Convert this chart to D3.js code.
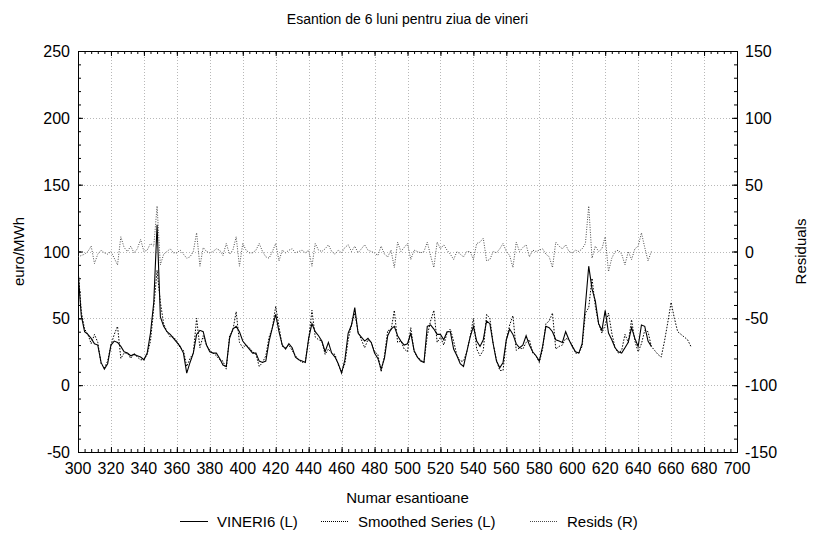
<!DOCTYPE html>
<html>
<head>
<meta charset="utf-8">
<script src="https://cdn.jsdelivr.net/npm/d3@7"></script>
<style>
body { margin: 0; background: #fff; }
text { font-family: "Liberation Sans", Arial, sans-serif; fill: #000; }
</style>
</head>
<body>
<div id="chart"></div>
<script>
var w = 815;
var h = 536;
var margin = {left: 78, right: 78, top: 51, bottom: 84};

// samples are read every 2 units along the x axis
var sampleStart = 300;
var sampleStep = 2;

var vineri6 = [85,52,40,38,35,31,30,17,12,16,
	30,33,32,29,25,24,22,23,22,21,
	19,24,39,62,120,51,44,40,38,35,
	32,29,24,9,17,24,38,41,40,30,
	25,24,24,20,15,14,35,42,44,40,
	33,30,27,24,24,18,17,18,33,43,
	53,40,30,27,31,28,21,19,18,17,
	35,46,40,37,33,25,32,24,21,16,
	9,19,39,45,58,39,36,33,35,32,
	24,20,12,20,37,42,44,37,33,30,
	31,39,26,21,18,17,44,45,42,38,
	38,34,40,40,27,22,16,14,25,36,
	44,33,29,34,48,46,31,18,13,17,
	34,42,38,31,28,30,37,30,25,22,
	18,29,44,43,40,34,33,32,40,34,
	29,25,24,31,60,89,72,63,46,41,
	56,39,34,28,25,24,28,32,43,35,
	29,45,44,33,29];

var smoothed = [88,55,42,38,31,38,32,16,13,18,
	30,38,44,20,24,24,20,24,21,19,
	19,23,33,58,86,62,46,40,36,36,
	33,28,26,14,20,24,50,28,37,30,
	26,24,22,19,18,12,37,41,55,32,
	28,30,28,25,23,14,17,22,36,43,
	59,44,29,28,30,26,22,19,17,18,
	34,56,36,34,33,23,27,24,23,15,
	10,16,34,45,54,40,34,28,34,32,
	25,23,10,22,41,41,56,32,33,27,
	25,43,25,21,19,17,37,48,56,32,
	36,30,39,42,33,22,18,18,25,36,
	50,27,22,26,53,50,31,19,11,11,
	34,45,52,26,28,27,32,34,24,22,
	17,27,46,48,54,27,29,30,35,34,
	30,24,24,29,54,58,80,59,46,39,
	45,54,39,28,24,26,38,32,49,33,
	25,31,41,40,29,26,23,21,33,47,
	62,50,40,38,36,34,29];

var resids = [-4,-3,-2,0,4,-9,-2,1,-1,-2,
	0,-5,-10,11,3,0,4,-1,2,9,
	0,1,6,4,34,-10,-2,0,2,-1,
	-1,1,-2,-5,-4,0,14,-11,3,0,
	-1,0,2,1,-3,6,-2,1,11,-11,
	6,1,-1,-1,1,6,0,-4,-5,0,
	6,-7,1,-1,1,2,-1,0,1,-1,
	1,-11,6,1,0,2,5,0,-2,1,
	-1,3,5,0,4,-1,2,5,1,0,
	-1,-3,4,-2,-4,1,-12,7,0,3,
	6,-6,1,0,-1,0,7,-3,-12,7,
	2,5,1,-2,-6,0,-2,-4,0,0,
	-6,6,7,10,-7,-6,0,-1,2,6,
	0,-3,-12,7,0,3,5,-4,1,0,
	1,2,-2,-4,-12,7,4,2,5,0,
	-1,1,0,2,6,34,-5,4,0,2,
	11,-15,-5,0,1,-2,-10,0,-6,2,
	4,14,3,-7,0];

var xTicks = d3.range(300, 701, 20);
var yLeftTicks = [-50, 0, 50, 100, 150, 200, 250];
var yRightTicks = [-150, -100, -50, 0, 50, 100, 150];

var svg = d3.select("#chart")
	.append("svg")
	.attr("width", w)
	.attr("height", h);

var x = d3.scaleLinear().domain([300, 700]).range([margin.left, w - margin.right]);
var yL = d3.scaleLinear().domain([-50, 250]).range([h - margin.bottom, margin.top]);
var yR = d3.scaleLinear().domain([-150, 150]).range([h - margin.bottom, margin.top]);

var plotLeft = margin.left, plotRight = w - margin.right;
var plotTop = margin.top, plotBottom = h - margin.bottom;

// grid
svg.append("g")
	.selectAll("line")
	.data(xTicks.slice(1, -1))
	.enter()
	.append("line")
	.attr("x1", (d) => Math.round(x(d)) + 0.5).attr("x2", (d) => Math.round(x(d)) + 0.5)
	.attr("y1", plotTop).attr("y2", plotBottom)
	.attr("stroke", "#b8b8b8").attr("stroke-dasharray", "1,2");

svg.append("g")
	.selectAll("line")
	.data(yLeftTicks.slice(1, -1))
	.enter()
	.append("line")
	.attr("y1", (d) => Math.round(yL(d)) + 0.5).attr("y2", (d) => Math.round(yL(d)) + 0.5)
	.attr("x1", plotLeft).attr("x2", plotRight)
	.attr("stroke", "#b8b8b8").attr("stroke-dasharray", "1,2");

// axes, ticks pointing inward
function tickAxis(axis, transform) {
	svg.append("g").attr("transform", transform).call(axis)
		.call((s) => s.select(".domain").remove())
		.call((s) => s.selectAll("text").remove());
}

var minorX = d3.range(300, 701, 4);
var minorY = d3.range(-50, 251, 10);
var minorYR = d3.range(-150, 151, 10);

tickAxis(d3.axisBottom(x).tickValues(minorX).tickSize(-3), "translate(0," + plotBottom + ")");
tickAxis(d3.axisTop(x).tickValues(minorX).tickSize(-3), "translate(0," + plotTop + ")");
tickAxis(d3.axisBottom(x).tickValues(xTicks).tickSize(-5), "translate(0," + plotBottom + ")");
tickAxis(d3.axisTop(x).tickValues(xTicks).tickSize(-5), "translate(0," + plotTop + ")");
tickAxis(d3.axisLeft(yL).tickValues(minorY).tickSize(-3), "translate(" + plotLeft + ",0)");
tickAxis(d3.axisLeft(yL).tickValues(yLeftTicks).tickSize(-5), "translate(" + plotLeft + ",0)");
tickAxis(d3.axisRight(yR).tickValues(minorYR).tickSize(-3), "translate(" + plotRight + ",0)");
tickAxis(d3.axisRight(yR).tickValues(yRightTicks).tickSize(-5), "translate(" + plotRight + ",0)");

svg.append("rect")
	.attr("x", plotLeft + 0.5).attr("y", plotTop + 0.5)
	.attr("width", plotRight - plotLeft).attr("height", plotBottom - plotTop)
	.attr("fill", "none").attr("stroke", "#000");

// tick labels
svg.append("g")
	.selectAll("text")
	.data(xTicks)
	.enter()
	.append("text")
	.attr("x", (d) => x(d))
	.attr("y", plotBottom + 22)
	.attr("text-anchor", "middle")
	.attr("font-size", "16px")
	.text((d) => d);

svg.append("g")
	.selectAll("text")
	.data(yLeftTicks)
	.enter()
	.append("text")
	.attr("x", plotLeft - 8)
	.attr("y", (d) => yL(d) + 6)
	.attr("text-anchor", "end")
	.attr("font-size", "16px")
	.text((d) => d);

svg.append("g")
	.selectAll("text")
	.data(yRightTicks)
	.enter()
	.append("text")
	.attr("x", plotRight + 8)
	.attr("y", (d) => yR(d) + 6)
	.attr("text-anchor", "start")
	.attr("font-size", "16px")
	.text((d) => d);

// titles
svg.append("text")
	.attr("x", (plotLeft + plotRight) / 2).attr("y", 24)
	.attr("text-anchor", "middle").attr("font-size", "14px")
	.text("Esantion de 6 luni pentru ziua de vineri");

svg.append("text")
	.attr("x", (plotLeft + plotRight) / 2).attr("y", 503)
	.attr("text-anchor", "middle").attr("font-size", "15px")
	.text("Numar esantioane");

svg.append("text")
	.attr("transform", "translate(24," + ((plotTop + plotBottom) / 2) + ") rotate(-90)")
	.attr("text-anchor", "middle").attr("font-size", "15px")
	.text("euro/MWh");

svg.append("text")
	.attr("transform", "translate(806," + ((plotTop + plotBottom) / 2) + ") rotate(-90)")
	.attr("text-anchor", "middle").attr("font-size", "15px")
	.text("Residuals");

// series
function pts(values) {
	return values.map((v, i) => [sampleStart + i * sampleStep, v]);
}

svg.append("clipPath").attr("id", "plotClip")
	.append("rect").attr("x", plotLeft).attr("y", plotTop)
	.attr("width", plotRight - plotLeft).attr("height", plotBottom - plotTop);

var lineL = d3.line().x((d) => x(d[0])).y((d) => yL(d[1]));
var lineR = d3.line().x((d) => x(d[0])).y((d) => yR(d[1]));

var plot = svg.append("g").attr("clip-path", "url(#plotClip)");

plot.append("path")
	.attr("d", lineR(pts(resids)))
	.attr("fill", "none").attr("stroke", "#4a4a4a")
	.attr("stroke-width", 1).attr("stroke-dasharray", "1,1.5");

plot.append("path")
	.attr("d", lineL(pts(smoothed)))
	.attr("fill", "none").attr("stroke", "#000")
	.attr("stroke-width", 1).attr("stroke-dasharray", "1.5,1.5");

plot.append("path")
	.attr("d", lineL(pts(vineri6)))
	.attr("fill", "none").attr("stroke", "#000")
	.attr("stroke-width", 1.1);

// legend
var legend = [
	{name: "VINERI6 (L)", x: 180, color: "#000", dash: null},
	{name: "Smoothed Series (L)", x: 321, color: "#000", dash: "1,1"},
	{name: "Resids (R)", x: 530, color: "#4a4a4a", dash: "1,1"}
];

var lg = svg.append("g").selectAll("g")
	.data(legend)
	.enter()
	.append("g")
	.attr("transform", (d) => "translate(" + d.x + ",527)");

lg.append("line")
	.attr("x1", 0).attr("x2", 28).attr("y1", -5.5).attr("y2", -5.5)
	.attr("stroke", (d) => d.color)
	.attr("stroke-dasharray", (d) => d.dash);

lg.append("text")
	.attr("x", 37).attr("y", 0)
	.attr("font-size", "15px")
	.text((d) => d.name);
</script>
</body>
</html>
